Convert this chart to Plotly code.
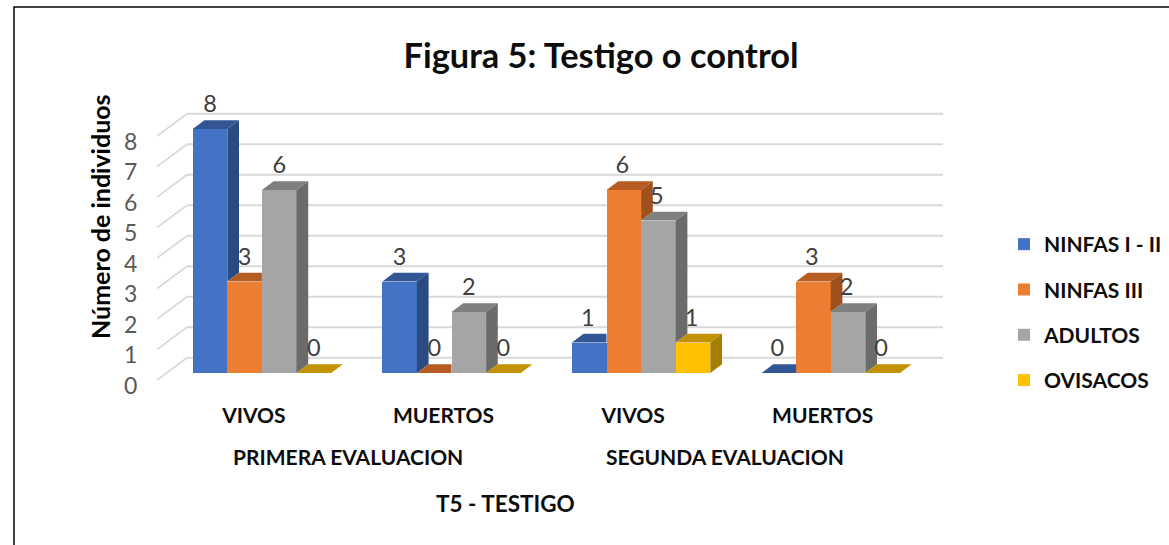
import plotly.graph_objects as go

groups = ["VIVOS", "MUERTOS", "VIVOS", "MUERTOS"]
evaluations = ["PRIMERA EVALUACION", "SEGUNDA EVALUACION"]
series_names = ["NINFAS I - II", "NINFAS III", "ADULTOS", "OVISACOS"]
ninfas_1_2 = [8, 3, 1, 0]
ninfas_3 = [3, 0, 6, 3]
adultos = [6, 2, 5, 2]
ovisacos = [0, 0, 1, 0]
y_ticks = [0, 1, 2, 3, 4, 5, 6, 7, 8]

series = [ninfas_1_2, ninfas_3, adultos, ovisacos]
front = ["#4472C4", "#ED7D31", "#A5A5A5", "#FFC000"]
top = ["#325596", "#B65C22", "#7F7F7F", "#C39200"]
side = ["#2A4A82", "#9E511D", "#6B6B6B", "#A67F00"]

W, H = 1169, 545
PL, PR, PT, PB = 157, 943, 100, 392
PX_GROUP = 189.6
PX_UNIT = 30.5
X0 = 261.9
bar_w = 34.6 / PX_GROUP
dx = 11.7 / PX_GROUP
dy = 8.7 / PX_UNIT
wall_dx = 30 / PX_GROUP
wall_lo = 0.23
wall_hi = 0.5
xmin = (PL - X0) / PX_GROUP
xmax = (PR - X0) / PX_GROUP
ymin = -(PB - 373) / PX_UNIT
ymax = (373 - PT) / PX_UNIT


def px(x):
    return (x - PL) / (W - PL)


def py(y):
    return (PB - y) / (PB - PT)


fig = go.Figure()

# front faces
for s, (name, vals) in enumerate(zip(series_names, series)):
    fig.add_trace(go.Bar(
        x=list(range(4)), y=vals, name=name, width=bar_w,
        offset=-2 * bar_w + s * bar_w,
        marker=dict(color=front[s], line=dict(width=0)),
        legendgroup=name,
    ))

# depth faces
for g in range(4):
    for s in range(4):
        v = series[s][g]
        nxt = series[s + 1][g] if s < 3 else 0
        x0 = g - 2 * bar_w + s * bar_w
        x1 = x0 + bar_w
        if nxt > v:
            tx = [x0, x1, x1, x0 + dx, x0]
        else:
            tx = [x0, x1, x1 + dx, x0 + dx, x0]
        ty = [v, v, v + dy, v + dy, v]
        fig.add_trace(go.Scatter(x=tx, y=ty, mode="lines", fill="toself", fillcolor=top[s],
                                 line=dict(width=0), hoverinfo="skip", showlegend=False))
        if v > nxt:
            rx = [x1, x1 + dx, x1 + dx, x1, x1]
            ry = [nxt, nxt + dy, v + dy, v, nxt]
            fig.add_trace(go.Scatter(x=rx, y=ry, mode="lines", fill="toself", fillcolor=side[s],
                                     line=dict(width=0), hoverinfo="skip", showlegend=False))

# data labels
for s, vals in enumerate(series):
    xs = [g - 2 * bar_w + (s + 0.5) * bar_w - (0 if g < 2 else 1.5 / PX_GROUP) for g in range(4)]
    fig.add_trace(go.Scatter(
        x=xs, y=[v + 0.75 for v in vals], mode="text", text=[str(v) for v in vals],
        textposition="middle center", textfont=dict(family="Lato", size=23.5, color="#404040"),
        hoverinfo="skip", showlegend=False, cliponaxis=False))

bold = dict(family="Lato", size=21, color="#0D0D0D")
annotations = []
for name, c in zip(evaluations, [347.5, 725]):
    annotations.append(dict(text=f"<b>{name}</b>", x=px(c), y=py(457), xref="paper", yref="paper",
                            showarrow=False, font=bold, xanchor="center", yanchor="middle"))
annotations.append(dict(text="<b>T5 - TESTIGO</b>", x=px(505), y=py(503), xref="paper", yref="paper",
                        showarrow=False, font=dict(family="Lato", size=22.5, color="#0D0D0D"),
                        xanchor="center", yanchor="middle"))
annotations.append(dict(text="<b>Número de individuos</b>", x=px(100), y=py(217), xref="paper", yref="paper",
                        textangle=-90, showarrow=False, font=dict(family="Lato", size=25, color="#000000"),
                        xanchor="center", yanchor="middle"))

shapes = [dict(type="rect", xref="paper", yref="paper", x0=px(14), x1=px(1200), y0=py(7), y1=py(600),
               line=dict(color="#000000", width=1.5), fillcolor="rgba(0,0,0,0)", layer="below")]
for v in y_ticks:
    shapes.append(dict(type="line", xref="x", yref="y", layer="below",
                       x0=xmin, y0=v - wall_lo, x1=xmin + wall_dx, y1=v + wall_hi,
                       line=dict(color="#D9D9D9", width=1.8)))
    shapes.append(dict(type="line", xref="x", yref="y", layer="below",
                       x0=xmin + wall_dx, y0=v + wall_hi, x1=xmax, y1=v + wall_hi,
                       line=dict(color="#D9D9D9", width=1.8)))

fig.update_layout(
    width=W, height=H, autosize=False,
    margin=dict(l=PL, r=0, t=PT, b=H - PB, pad=0),
    paper_bgcolor="white", plot_bgcolor="rgba(0,0,0,0)",
    barmode="overlay", bargap=0,
    font=dict(family="Lato"),
    title=dict(text="<b>Figura 5: Testigo o control</b>", x=601 / W, xanchor="center",
               y=1 - 56 / H, yanchor="middle", font=dict(family="Lato", size=34.4, color="#0D0D0D")),
    xaxis=dict(domain=[0, (PR - PL) / (W - PL)], range=[xmin, xmax],
               tickvals=[g - 8 / PX_GROUP for g in range(4)], ticktext=[f"<b>{c}</b>" for c in groups],
               showgrid=False, zeroline=False, showline=False, ticks="outside", ticklen=5,
               tickcolor="rgba(0,0,0,0)", tickfont=bold, fixedrange=True),
    yaxis=dict(range=[ymin, ymax], tickvals=[v - 0.41 for v in y_ticks], ticktext=[str(v) for v in y_ticks],
               showgrid=False, zeroline=False, showline=False, ticks="outside", ticklen=14,
               tickcolor="rgba(0,0,0,0)", tickfont=dict(family="Lato", size=23, color="#595959"), fixedrange=True),
    legend=dict(x=px(1004), y=py(224), xanchor="left", yanchor="top", xref="paper", yref="paper",
                font=dict(family="Lato", size=21, color="#0D0D0D", weight="bold"), tracegroupgap=15,
                bgcolor="rgba(0,0,0,0)", traceorder="grouped"),
    annotations=annotations,
    shapes=shapes,
)
fig.write_html("out.html", config={"displayModeBar": False},
               post_script="document.body.style.margin='0';document.body.style.overflow='hidden';")
